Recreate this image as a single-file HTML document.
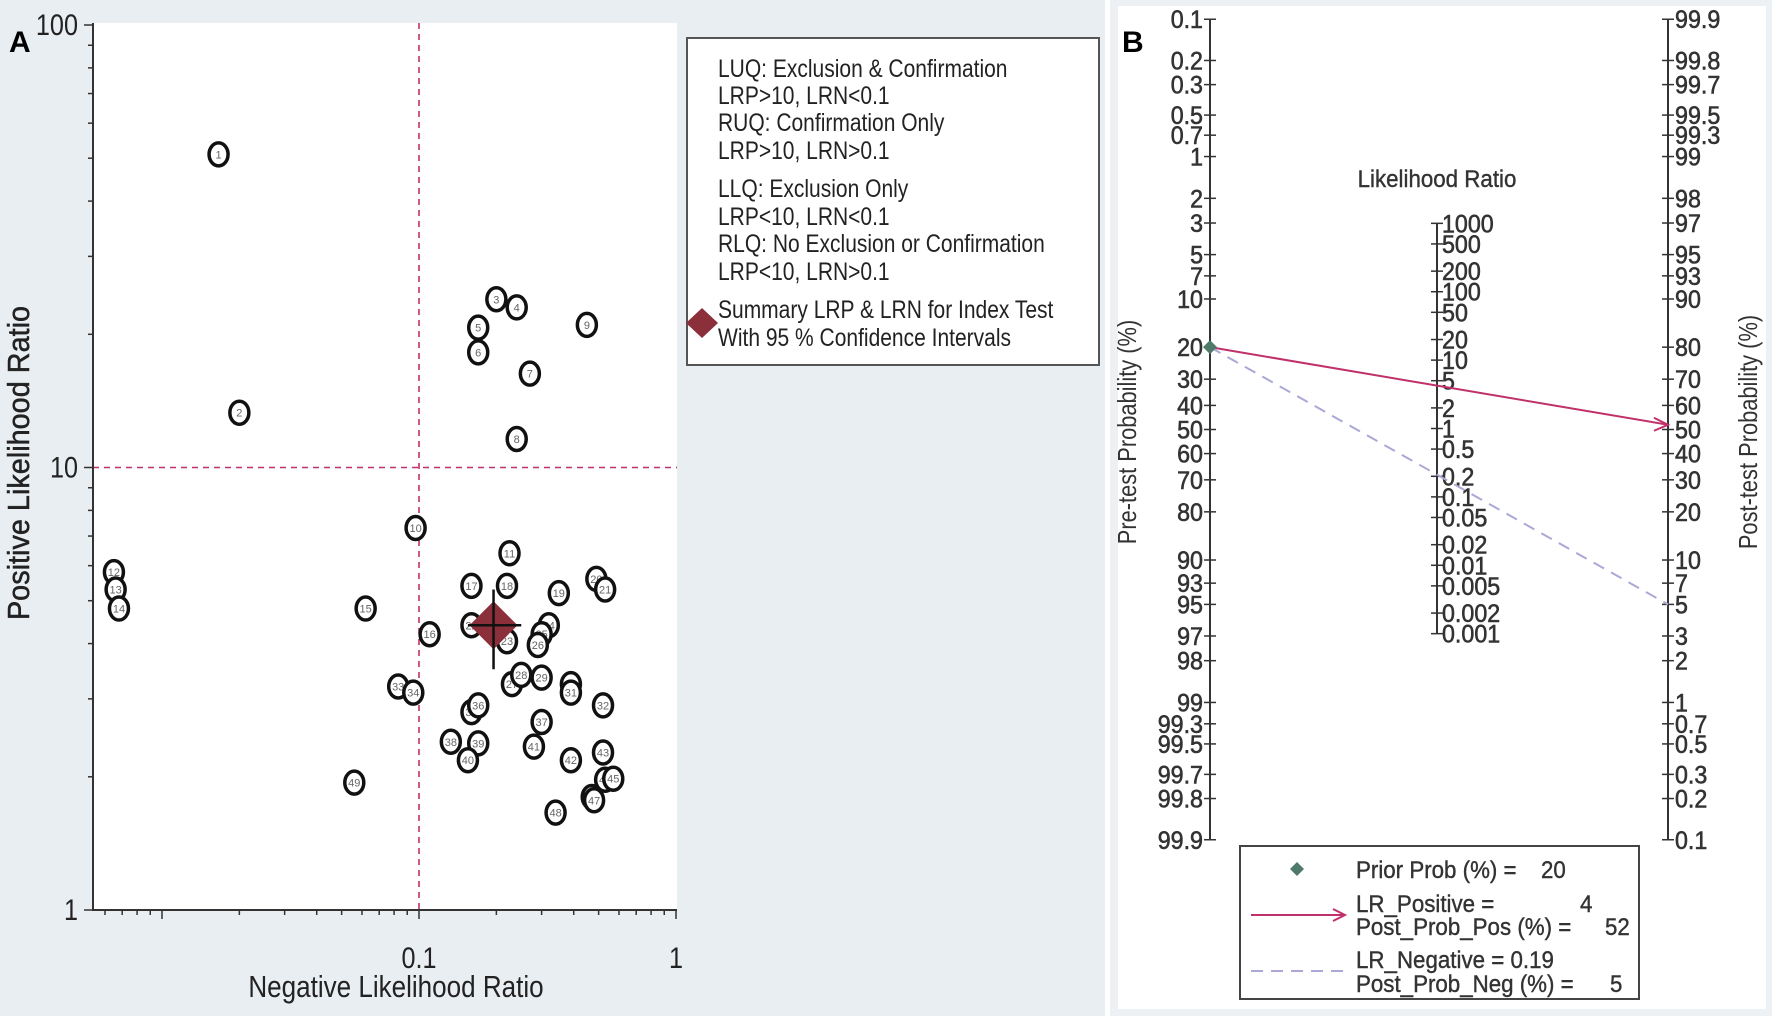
<!DOCTYPE html>
<html><head><meta charset="utf-8"><style>
html,body{margin:0;padding:0;background:#fff}
svg{display:block;font-family:"Liberation Sans",sans-serif}
</style></head><body>
<svg id="fig" width="1772" height="1016" viewBox="0 0 1772 1016" xmlns="http://www.w3.org/2000/svg">
<rect x="0" y="0" width="1105" height="1016" fill="#e9eef2"/>
<rect x="1110" y="0" width="662" height="1016" fill="#eef1f3"/>
<rect x="1118" y="6" width="648" height="1003" fill="#fff"/>
<rect x="93" y="23" width="584" height="887" fill="#fff"/>
<g id="pa"></g>
<g id="pb"></g>
</svg>
<script>
// ---- Panel A data ----
const studyNLR = [0.0166,0.020,0.20,0.24,0.17,0.17,0.27,0.24,0.45,0.097,0.225,0.0065,0.0066,0.0068,0.062,0.11,0.16,0.22,0.35,0.49,0.53,0.16,0.22,0.32,0.30,0.29,0.23,0.25,0.30,0.39,0.39,0.52,0.083,0.095,0.16,0.17,0.30,0.133,0.17,0.155,0.28,0.39,0.52,0.53,0.57,0.47,0.48,0.34,0.056];
const studyPLR = [51,13.3,24,23,20.7,18.2,16.3,11.6,21,7.3,6.4,5.8,5.3,4.8,4.8,4.2,5.4,5.4,5.2,5.6,5.3,4.4,4.05,4.4,4.2,3.97,3.24,3.4,3.35,3.24,3.1,2.9,3.2,3.1,2.8,2.9,2.66,2.4,2.38,2.18,2.34,2.18,2.27,1.97,1.98,1.8,1.77,1.66,1.94];
const summaryNLR = [0.155,0.195,0.25];
const summaryPLR = [3.5,4.4,5.3];
const xTickLabels = ["0.1","1"];
const yTickLabels = ["1","10","100"];
const legendALines = ["LUQ: Exclusion & Confirmation","LRP>10, LRN<0.1","RUQ: Confirmation Only","LRP>10, LRN>0.1","LLQ: Exclusion Only","LRP<10, LRN<0.1","RLQ: No Exclusion or Confirmation","LRP<10, LRN>0.1"];
// ---- Panel B data ----
const priorProb = 20;
const lrPositive = 4;
const lrNegative = 0.19;
const postProbPos = 52;
const postProbNeg = 5;
const probTicks = [0.1,0.2,0.3,0.5,0.7,1,2,3,5,7,10,20,30,40,50,60,70,80,90,93,95,97,98,99,99.3,99.5,99.7,99.8,99.9];
const lrTicks = [1000,500,200,100,50,20,10,5,2,1,0.5,0.2,0.1,0.05,0.02,0.01,0.005,0.002,0.001];

const NS="http://www.w3.org/2000/svg";
function mk(parent,tag,attrs,text){const e=document.createElementNS(NS,tag);for(const k in attrs)e.setAttribute(k,attrs[k]);if(text!==undefined)e.textContent=text;parent.appendChild(e);return e;}

// Panel A axes
const pa=document.getElementById('pa');
const xA=v=>419+(Math.log10(v)+1)*257;
const yA=v=>910-Math.log10(v)*442.5;
let e;
e=mk(pa,'line',{x1:93,y1:yA(10),x2:677,y2:yA(10),stroke:'#c0306a','stroke-width':1.6,'stroke-dasharray':'6,5'});


e=mk(pa,'line',{x1:xA(0.1),y1:23,x2:xA(0.1),y2:910,stroke:'#c0306a','stroke-width':1.6,'stroke-dasharray':'6,5'});


e=mk(pa,'line',{x1:93,y1:23,x2:93,y2:911,stroke:'#333','stroke-width':2});


e=mk(pa,'line',{x1:92,y1:910,x2:677,y2:910,stroke:'#333','stroke-width':2});


for(let d=0;d<2;d++){for(let m=1;m<=9;m++){const v=m*Math.pow(10,d);const y=yA(v);mk(pa,'line',{x1:m===1?84:88,y1:y,x2:93,y2:y,stroke:'#333','stroke-width':1.5});}}
mk(pa,'line',{x1:84,y1:yA(100),x2:93,y2:yA(100),stroke:'#333','stroke-width':1.5});
for(const d of [-3,-2,-1]){for(let m=1;m<=9;m++){const v=m*Math.pow(10,d);const x=xA(v);if(x<93)continue;mk(pa,'line',{x1:x,y1:910,x2:x,y2:m===1?919:915,stroke:'#333','stroke-width':1.5});}}
mk(pa,'line',{x1:xA(1),y1:910,x2:xA(1),y2:919,stroke:'#333','stroke-width':1.5});
yTickLabels.forEach(t=>{e=mk(pa,'text',{x:78,y:yA(+t)+10,'text-anchor':'end','font-size':30,fill:'#222',class:'cond'},t);

});
xTickLabels.forEach(t=>{e=mk(pa,'text',{x:xA(+t),y:968,'text-anchor':'middle','font-size':30,fill:'#222',class:'cond'},t);

});
e=mk(pa,'text',{x:396,y:997,'text-anchor':'middle','font-size':31,fill:'#222',class:'cond'},'Negative Likelihood Ratio');


e=mk(pa,'text',{x:0,y:0,'text-anchor':'middle','font-size':31,fill:'#222',stroke:'#222','stroke-width':0.5,transform:'translate(29,463) rotate(-90)'},'Positive Likelihood Ratio');


e=mk(pa,'text',{x:9,y:52,'font-size':30,'font-weight':'bold',fill:'#000'},'A');


studyNLR.forEach((v,i)=>{
  e=mk(pa,'ellipse',{cx:Math.max(xA(v),103),cy:yA(studyPLR[i]),rx:9.5,ry:11.5,fill:'#fff',stroke:'#111','stroke-width':3.5});
  
  
  mk(pa,'text',{x:Math.max(xA(v),103),y:yA(studyPLR[i])+4,'text-anchor':'middle','font-size':11,fill:'#666'},String(i+1));
});
const sx=xA(summaryNLR[1]),sy=yA(summaryPLR[1]);
e=mk(pa,'polygon',{points:`${sx},${sy-24} ${sx+24},${sy} ${sx},${sy+24} ${sx-24},${sy}`,fill:'#8b2f3a'});


e=mk(pa,'line',{x1:xA(summaryNLR[0]),y1:sy,x2:xA(summaryNLR[2]),y2:sy,stroke:'#111','stroke-width':2.5});


e=mk(pa,'line',{x1:sx,y1:yA(summaryPLR[0]),x2:sx,y2:yA(summaryPLR[2]),stroke:'#111','stroke-width':2.5});


// legend A
e=mk(pa,'rect',{x:687,y:38,width:412,height:327,fill:'#fff',stroke:'#555','stroke-width':2});


const lgY=[77,104,131,159,197,225,252,280];
legendALines.forEach((t,i)=>{e=mk(pa,'text',{x:718,y:lgY[i],'font-size':25,fill:'#222',class:'cond'},t);

});
e=mk(pa,'polygon',{points:'702,308 718,323 702,338 686,323',fill:'#8b2f3a'});


mk(pa,'text',{x:718,y:318,'font-size':25,fill:'#222',class:'cond'},'Summary LRP & LRN for Index Test');
mk(pa,'text',{x:718,y:346,'font-size':25,fill:'#222',class:'cond'},'With 95 % Confidence Intervals');

// Panel B
const pb=document.getElementById('pb');
const XL=1210,XR=1668,XM=1437,C=429.5,S=59.4;
const logit=p=>Math.log((p/100)/(1-p/100));
const yPre=p=>C+logit(p)*S;
const yPost=p=>C-logit(p)*S;
const yLR=v=>428.5-Math.log(v)*S/2;
[[XL,'pre-test-axis'],[XR,'post-test-axis']].forEach(([x,n])=>{e=mk(pb,'line',{x1:x,y1:yPre(0.1),x2:x,y2:yPre(99.9),stroke:'#333','stroke-width':2});

});
e=mk(pb,'line',{x1:XM,y1:yLR(1000),x2:XM,y2:yLR(0.001),stroke:'#333','stroke-width':2});


const tk={'font-size':25,fill:'#333',stroke:'#333','stroke-width':0.6};
probTicks.forEach(p=>{
  const y=yPre(p);
  mk(pb,'line',{x1:XL-6,y1:y,x2:XL+6,y2:y,stroke:'#333','stroke-width':1.5});
  e=mk(pb,'text',Object.assign({x:XL-7,y:y+9,'text-anchor':'end'},tk),String(p));
  
  
  const y2=yPost(100-p);
  mk(pb,'line',{x1:XR-6,y1:y2,x2:XR+6,y2:y2,stroke:'#333','stroke-width':1.5});
  e=mk(pb,'text',Object.assign({x:XR+7,y:y2+9},tk),String(+(100-p).toFixed(1)));
  
  
});
lrTicks.forEach(v=>{const y=yLR(v);
  mk(pb,'line',{x1:XM-6,y1:y,x2:XM+6,y2:y,stroke:'#333','stroke-width':1.5});
  e=mk(pb,'text',Object.assign({x:XM+5,y:y+9},tk),String(v));
  
  });
e=mk(pb,'text',{x:XM,y:187,'text-anchor':'middle','font-size':24,fill:'#333',stroke:'#333','stroke-width':0.4},'Likelihood Ratio');


e=mk(pb,'text',{x:0,y:0,'text-anchor':'middle','font-size':26,fill:'#333',class:'cond',transform:'translate(1136,432) rotate(-90)'},'Pre-test Probability (%)');


e=mk(pb,'text',{x:0,y:0,'text-anchor':'middle','font-size':26,fill:'#333',class:'cond',transform:'translate(1757,432) rotate(-90)'},'Post-test Probability (%)');


e=mk(pb,'text',{x:1122,y:52,'font-size':30,'font-weight':'bold',fill:'#000'},'B');


e=mk(pb,'line',{x1:XL,y1:yPre(priorProb),x2:XR,y2:yPost(postProbPos),stroke:'#c0306a','stroke-width':2});


mk(pb,'polyline',{points:`${XR-14},${yPost(postProbPos)-7} ${XR},${yPost(postProbPos)} ${XR-14},${yPost(postProbPos)+6}`,fill:'none',stroke:'#c0306a','stroke-width':2});
e=mk(pb,'line',{x1:XL,y1:yPre(priorProb),x2:XR,y2:yPost(postProbNeg),stroke:'#aaa8d6','stroke-width':2,'stroke-dasharray':'12,8'});


e=mk(pb,'polygon',{points:`${XL},${yPre(priorProb)-7} ${XL+7},${yPre(priorProb)} ${XL},${yPre(priorProb)+7} ${XL-7},${yPre(priorProb)}`,fill:'#4f7a6a'});


// legend B
e=mk(pb,'rect',{x:1240,y:846,width:399,height:153,fill:'#fff',stroke:'#444','stroke-width':2});


const lt={'font-size':24,fill:'#333',stroke:'#333','stroke-width':0.4};
mk(pb,'polygon',{points:'1297,862 1304,869 1297,876 1290,869',fill:'#4f7a6a'});
mk(pb,'text',Object.assign({x:1356,y:878},lt),'Prior Prob (%) =');
mk(pb,'text',Object.assign({x:1541,y:878},lt),String(priorProb));
mk(pb,'line',{x1:1251,y1:915,x2:1345,y2:915,stroke:'#c0306a','stroke-width':2});
mk(pb,'polyline',{points:'1333,909 1345,915 1333,921',fill:'none',stroke:'#c0306a','stroke-width':2});
mk(pb,'text',Object.assign({x:1356,y:912},lt),'LR_Positive =');
mk(pb,'text',Object.assign({x:1580,y:912},lt),String(lrPositive));
mk(pb,'text',Object.assign({x:1356,y:935},lt),'Post_Prob_Pos (%) =');
mk(pb,'text',Object.assign({x:1605,y:935},lt),String(postProbPos));
mk(pb,'line',{x1:1251,y1:971,x2:1345,y2:971,stroke:'#aaa8d6','stroke-width':2,'stroke-dasharray':'12,8'});
mk(pb,'text',Object.assign({x:1356,y:968},lt),'LR_Negative =  '+lrNegative);
mk(pb,'text',Object.assign({x:1356,y:992},lt),'Post_Prob_Neg (%) =');
mk(pb,'text',Object.assign({x:1610,y:992},lt),String(postProbNeg));

// condense selected text (narrow font look)
document.querySelectorAll('#fig text').forEach(t=>{
  const f=t.getAttribute('class')==='cond'?0.84:(t.getAttribute('font-size')>=24&&t.getAttribute('font-weight')!=='bold'?0.93:0);
  if(!f)return;
  const L=t.getComputedTextLength();
  if(L>0){t.setAttribute('textLength',(L*f).toFixed(1));t.setAttribute('lengthAdjust','spacingAndGlyphs');}
});
</script>
</body></html>
